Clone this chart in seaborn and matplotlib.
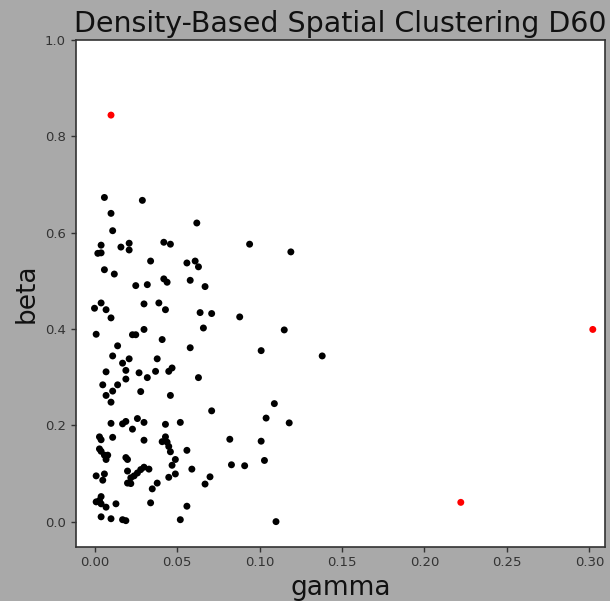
import matplotlib
matplotlib.use("Agg")
import matplotlib.pyplot as plt
import seaborn as sns
import pandas as pd

# Clustered points (black)
gamma_core = [0.006, 0.029, 0.010, 0.062, 0.011, 0.004, 0.021, 0.042, 0.046, 0.016,
              0.021, 0.002, 0.004, 0.034, 0.056, 0.061, 0.063, 0.006, 0.012, 0.042,
              0.044, 0.058, 0.025, 0.032, 0.067, 0.004, 0.000, 0.007, 0.030, 0.039,
              0.043, 0.064, 0.071, 0.010, 0.001, 0.023, 0.025, 0.030, 0.066, 0.041,
              0.014, 0.058, 0.011, 0.021, 0.038, 0.017, 0.007, 0.019, 0.019, 0.027,
              0.032, 0.037, 0.045, 0.047, 0.063, 0.005, 0.014, 0.011, 0.007, 0.028,
              0.046, 0.010, 0.071, 0.010, 0.017, 0.019, 0.026, 0.030, 0.023, 0.043,
              0.052, 0.003, 0.004, 0.011, 0.030, 0.043, 0.041, 0.044, 0.003, 0.004,
              0.006, 0.008, 0.007, 0.045, 0.046, 0.056, 0.019, 0.020, 0.049, 0.047,
              0.020, 0.030, 0.028, 0.026, 0.024, 0.022, 0.033, 0.059, 0.001, 0.006,
              0.005, 0.045, 0.049, 0.070, 0.067, 0.020, 0.022, 0.038, 0.035, 0.004,
              0.003, 0.001, 0.004, 0.007, 0.013, 0.034, 0.056, 0.004, 0.010, 0.017,
              0.019, 0.052, 0.094, 0.119, 0.088, 0.115, 0.101, 0.138, 0.109, 0.104,
              0.118, 0.082, 0.101, 0.103, 0.083, 0.091, 0.110]
beta_core = [0.673, 0.667, 0.640, 0.620, 0.604, 0.574, 0.578, 0.580, 0.576, 0.570,
             0.564, 0.557, 0.558, 0.541, 0.537, 0.541, 0.529, 0.523, 0.514, 0.504,
             0.497, 0.501, 0.490, 0.492, 0.488, 0.454, 0.443, 0.440, 0.452, 0.454,
             0.440, 0.434, 0.432, 0.423, 0.389, 0.388, 0.388, 0.399, 0.402, 0.378,
             0.365, 0.361, 0.344, 0.338, 0.338, 0.329, 0.311, 0.314, 0.296, 0.309,
             0.299, 0.312, 0.312, 0.319, 0.299, 0.284, 0.284, 0.271, 0.262, 0.270,
             0.262, 0.248, 0.230, 0.204, 0.203, 0.208, 0.214, 0.206, 0.192, 0.202,
             0.206, 0.176, 0.170, 0.175, 0.169, 0.176, 0.166, 0.165, 0.151, 0.146,
             0.138, 0.138, 0.129, 0.156, 0.145, 0.148, 0.133, 0.129, 0.129, 0.117,
             0.105, 0.113, 0.108, 0.101, 0.095, 0.091, 0.109, 0.109, 0.095, 0.099,
             0.086, 0.092, 0.099, 0.093, 0.078, 0.080, 0.079, 0.080, 0.068, 0.052,
             0.044, 0.041, 0.037, 0.030, 0.037, 0.039, 0.032, 0.010, 0.006, 0.004,
             0.002, 0.004, 0.576, 0.560, 0.425, 0.398, 0.355, 0.344, 0.245, 0.215,
             0.205, 0.171, 0.167, 0.127, 0.118, 0.116, 0.000]

# Noise points (red)
gamma_noise = [0.010, 0.222, 0.302]
beta_noise = [0.844, 0.040, 0.399]

df = pd.DataFrame({
    "gamma": gamma_core + gamma_noise,
    "beta": beta_core + beta_noise,
    "label": ["core"] * len(gamma_core) + ["noise"] * len(gamma_noise),
})

bg = "#a9a9a9"
fig = plt.figure(figsize=(6.1, 6.01), dpi=100, facecolor=bg)
ax = fig.add_axes([0.1241, 0.0904, 0.8677, 0.8431])
ax.set_facecolor("white")

sns.scatterplot(data=df, x="gamma", y="beta", hue="label",
                palette={"core": "black", "noise": "red"},
                s=25, linewidth=0, legend=False, ax=ax)

ax.set_xlim(-0.0114, 0.3094)
ax.set_ylim(-0.052, 1.0)
ax.set_xticks([0.00, 0.05, 0.10, 0.15, 0.20, 0.25, 0.30])
ax.set_yticks([0.0, 0.2, 0.4, 0.6, 0.8, 1.0])
ax.set_xticklabels(["0.00", "0.05", "0.10", "0.15", "0.20", "0.25", "0.30"])
ax.set_yticklabels(["0.0", "0.2", "0.4", "0.6", "0.8", "1.0"])
ax.tick_params(axis="both", labelsize=9.5, colors="#333333", length=3.5, width=1)
for sp in ax.spines.values():
    sp.set_color("#333333")
    sp.set_linewidth(1.2)

ax.set_title("Density-Based Spatial Clustering D60", fontsize=20.5, color="#111111")
ax.set_xlabel("gamma", fontsize=19, color="#111111")
ax.set_ylabel("beta", fontsize=19, color="#111111")

fig.savefig("out.png", dpi=100, facecolor=bg)
